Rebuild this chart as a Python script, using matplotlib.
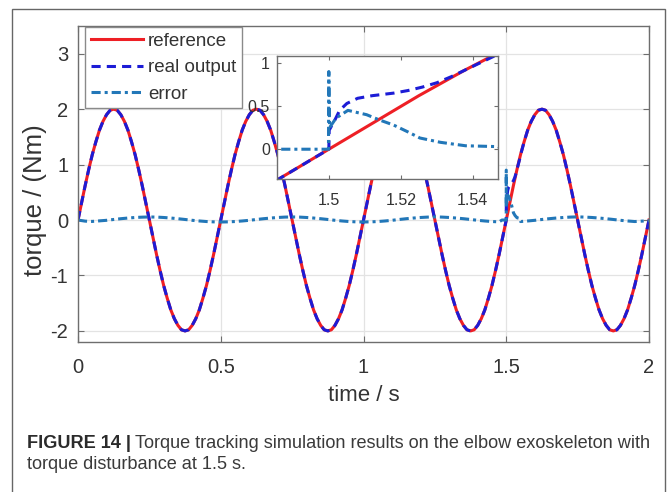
import numpy as np
import matplotlib
matplotlib.use('Agg')
import matplotlib.pyplot as plt
from matplotlib.patches import Rectangle

plt.rcParams['font.family'] = ['Liberation Sans', 'DejaVu Sans']

# One period (0.5 s) of the reference torque, sampled every 0.0125 s
ref_period = [0.00, 0.31, 0.62, 0.91, 1.18, 1.41, 1.62, 1.78, 1.90, 1.98,
              2.00, 1.98, 1.90, 1.78, 1.62, 1.41, 1.18, 0.91, 0.62, 0.31,
              0.00, -0.31, -0.62, -0.91, -1.18, -1.41, -1.62, -1.78, -1.90, -1.98,
              -2.00, -1.98, -1.90, -1.78, -1.62, -1.41, -1.18, -0.91, -0.62, -0.31]
t_ref = np.linspace(0, 2, 161)
reference = np.append(np.tile(ref_period, 4), 0.0)

# tracking error sampled every 0.025 s
t_err = np.linspace(0, 2, 81)
error_base = [
    0.0, -0.02, -0.025, -0.015, -0.005, 0.01, 0.024, 0.036, 0.046, 0.052,
    0.055, 0.053, 0.046, 0.036, 0.024, 0.01, -0.005, -0.017, -0.027, -0.033,
    -0.036, -0.033, -0.027, -0.017, -0.005, 0.01, 0.024, 0.036, 0.046, 0.053,
    0.056, 0.053, 0.046, 0.036, 0.024, 0.01, -0.005, -0.017, -0.027, -0.033,
    -0.035, -0.033, -0.027, -0.017, -0.005, 0.01, 0.024, 0.036, 0.046, 0.053,
    0.057, 0.053, 0.046, 0.036, 0.024, 0.01, -0.005, -0.017, -0.027, -0.033,
    -0.035, -0.033, -0.027, -0.017, -0.005, 0.01, 0.024, 0.036, 0.046, 0.053,
    0.057, 0.053, 0.046, 0.036, 0.024, 0.01, -0.005, -0.017, -0.027, -0.02,
    -0.01]

# torque disturbance at 1.5 s
dist_t = [1.5, 1.5001, 1.5017, 1.503, 1.505, 1.508, 1.512, 1.518, 1.522,
          1.526, 1.53, 1.534, 1.537, 1.54, 1.544, 1.547, 1.55]
dist_out = [0.0, 0.22, 0.34, 0.45, 0.53, 0.59, 0.62, 0.65, 0.68,
            0.72, 0.77, 0.84, 0.9, 0.96, 1.04, 1.1, 1.17]
dist_err_t = [1.485, 1.4999, 1.5, 1.5002, 1.502, 1.5053, 1.5105, 1.514,
              1.518, 1.522, 1.5253, 1.531, 1.538, 1.547]
dist_err = [0.0, 0.0, 0.9, 0.25, 0.36, 0.45, 0.40, 0.34,
            0.28, 0.2, 0.13, 0.08, 0.04, 0.03]

error_base = np.array(error_base)
before = t_ref < 1.5
after = t_ref > 1.55
t_out = np.concatenate([t_ref[before], dist_t, t_ref[after]])
real_output = np.concatenate([reference[before], dist_out, reference[after]])
eb = t_err < 1.485
ea = t_err > 1.547
t_e = np.concatenate([t_err[eb], dist_err_t, t_err[ea]])
error = np.concatenate([error_base[eb], dist_err, error_base[ea]])

RED = '#ee1f25'
BLUE = '#1c1cd6'
ERRC = '#2277b8'
TXT = '#333333'
SPINE = '#6e6e6e'

W, H = 667, 492
fig = plt.figure(figsize=(W / 100, H / 100), dpi=100)

# outer frame of the figure panel
fig.patches.append(Rectangle((12 / W, -0.05), (665 - 12) / W, 1 - 9 / H + 0.05,
                             transform=fig.transFigure, fill=False,
                             edgecolor='#666666', linewidth=1.0))


def draw_lines(axis):
    axis.plot(t_ref, reference, color=RED, linewidth=2.2, label='reference')
    axis.plot(t_out, real_output, color=BLUE, linewidth=2.2, dashes=(3, 2),
              label='real output')
    axis.plot(t_e, error, color=ERRC, linewidth=2.2, dashes=(3, 1.3, 1, 1.3),
              label='error')


def style(axis, size):
    for s in axis.spines.values():
        s.set_color(SPINE)
        s.set_linewidth(1.0)
    axis.tick_params(direction='in', top=True, right=True, colors=SPINE,
                     labelcolor=TXT, labelsize=size, length=4)


ax = fig.add_axes([78 / W, 1 - 342 / H, (649 - 78) / W, (342 - 26) / H])
draw_lines(ax)
ax.set_xlim(0, 2)
ax.set_ylim(-2.2, 3.5)
ax.set_xticks([0, 0.5, 1, 1.5, 2])
ax.set_xticklabels(['0', '0.5', '1', '1.5', '2'])
ax.set_yticks([-2, -1, 0, 1, 2, 3])
ax.set_yticklabels(['-2', '-1', '0', '1', '2', '3'])
ax.grid(True, color='#e3e3e3', linewidth=0.9)
style(ax, 14.5)
ax.tick_params(axis='x', pad=11.5)
ax.tick_params(axis='y', pad=7)
ax.set_xlabel('time / s', fontsize=16, color=TXT)
ax.set_ylabel('torque / (Nm)', fontsize=18.5, color=TXT)
ax.xaxis.set_label_coords(0.5, -0.137)
ax.yaxis.set_label_coords(-0.054, 0.449)

leg = ax.legend(loc='upper left', bbox_to_anchor=(7 / 571, 1 - 1 / 316),
                borderaxespad=0, fontsize=13.5, handlelength=2.8,
                handletextpad=0.25, labelspacing=0.5, borderpad=0.3,
                fancybox=False, framealpha=1, edgecolor='#8a8a8a')
leg.get_frame().set_linewidth(1.0)
for t in leg.get_texts():
    t.set_color(TXT)

ins = fig.add_axes([277 / W, 1 - 179 / H, (498 - 277) / W, (179 - 56) / H])
draw_lines(ins)
ins.set_xlim(1.4856, 1.547)
ins.set_ylim(-0.345, 1.08)
ins.set_xticks([1.5, 1.52, 1.54])
ins.set_xticklabels(['1.5', '1.52', '1.54'])
ins.set_yticks([0, 0.5, 1])
ins.set_yticklabels(['0', '0.5', '1'])
style(ins, 11.5)
ins.tick_params(length=3)
ins.tick_params(axis='x', pad=10)
ins.tick_params(axis='y', pad=5)

# caption, sized so that the first line spans the frame like the original
cap_left, cap_right = 27, 650
cap_y1, cap_y2 = 1 - 448 / H, 1 - 469 / H
size = 11.0
renderer = fig.canvas.get_renderer()
for _ in range(2):
    bold = fig.text(cap_left / W, cap_y1, 'FIGURE 14 |', fontsize=size,
                    fontweight='bold', color='#2b2b2b', va='baseline')
    bb = bold.get_window_extent(renderer)
    rest = fig.text((bb.x1 + 0.3 * size) / W, cap_y1,
                    'Torque tracking simulation results on the elbow exoskeleton with',
                    fontsize=size, color='#3a3a3a', va='baseline')
    rb = rest.get_window_extent(renderer)
    width = rb.x1 - cap_left
    if abs(width - (cap_right - cap_left)) < 1:
        break
    bold.remove()
    rest.remove()
    size *= (cap_right - cap_left) / width
fig.text(cap_left / W, cap_y2, 'torque disturbance at 1.5 s.', fontsize=size,
         color='#3a3a3a', va='baseline')

fig.savefig('out.png', dpi=100)
